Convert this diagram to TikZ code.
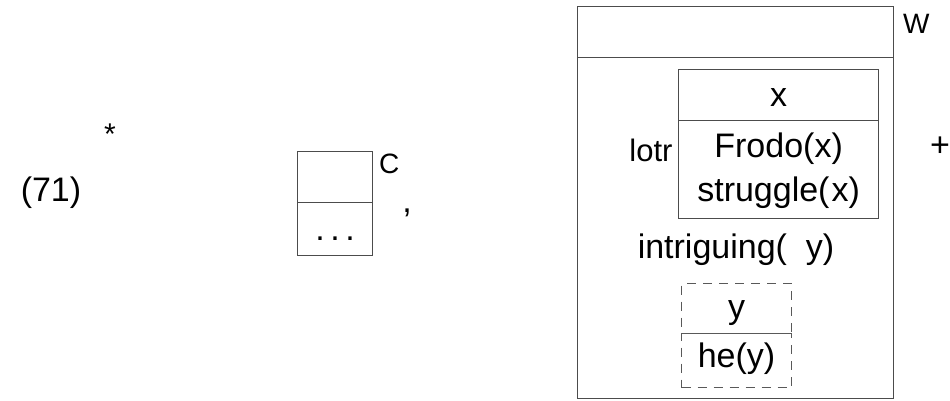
\documentclass[tikz,border=0pt]{standalone}
\usepackage{fontspec}
\setmainfont{Liberation Sans}
\begin{document}
\begin{tikzpicture}[x=1pt,y=-1pt,
  boxline/.style={draw=black!70, line width=1.2pt},
  cell/.style={boxline, inner sep=0pt, anchor=north west},
  dcell/.style={draw=black!65, line width=1.1pt, dash pattern=on 9pt off 7pt, inner sep=0pt, anchor=north west},
  big/.style={font=\fontsize{34}{40}\selectfont, anchor=base, inner sep=0pt},
  lab/.style={font=\fontsize{28}{32}\selectfont, anchor=base west, inner sep=0pt}]
\useasboundingbox (0,0) rectangle (950,400);

% example number and star
\node[big] (num) at (51,201) {(71)};
\node[big, font=\fontsize{30}{36}\selectfont] (star) at (110,144) {*};

% small condition box C
\node[cell, minimum width=75pt, minimum height=51pt] (ctop) at (297,151) {};
\node[cell, minimum width=75pt, minimum height=53pt] (cbot) at (297,202) {};
\node[big] (dots) at (cbot.center |- 0,240) {.\,.\,.};
\node[lab] (clab) at (379,173) {C};
\node[big] (comma) at (407,212) {,};

% outer box W
\node[cell, minimum width=316pt, minimum height=51pt] (wtop) at (577,6) {};
\node[cell, minimum width=316pt, minimum height=341pt] (wbot) at (577,57) {};
\node[lab] (wlab) at (903,33) {W};

% inner box
\node[cell, minimum width=200pt, minimum height=51pt] (itop) at (678,69) {};
\node[cell, minimum width=200pt, minimum height=98pt] (ibot) at (678,120) {};
\node[big] (xvar) at (itop.center |- 0,106) {x};
\node[big] (frodo) at (ibot.center |- 0,157) {Frodo(x)};
\node[big] (strug) at (ibot.center |- 0,201) {struggle(\kern2pt x)};
\node[big, font=\fontsize{31}{36}\selectfont] (lotr) at (651,161) {lotr};

\node[big] (intr) at (736,258) {intriguing(\ \ y)};

% dashed box
\node[dcell, minimum width=110pt, minimum height=50pt] (dtop) at (681,283) {};
\node[dcell, minimum width=110pt, minimum height=54pt] (dbot) at (681,333) {};
\node[big] (yvar) at (dtop.center |- 0,318) {y};
\node[big] (hey) at (dbot.center |- 0,367) {he(y)};

\node[big] (plus) at (940,156) {+};
\end{tikzpicture}
\end{document}
